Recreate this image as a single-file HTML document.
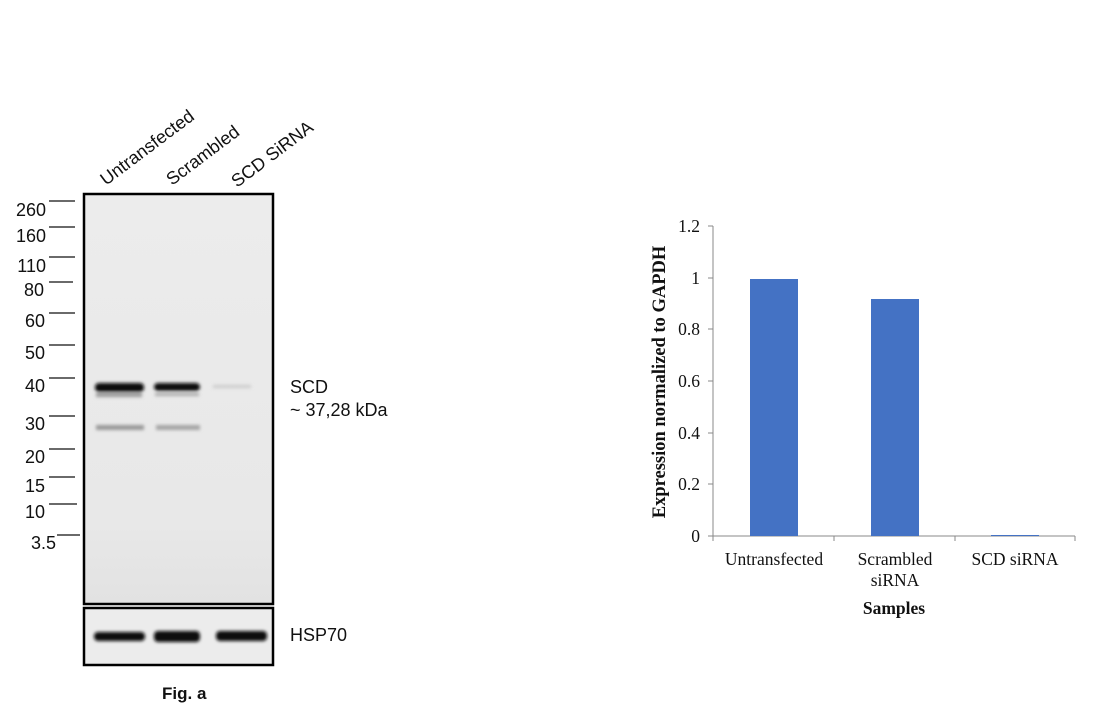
<!DOCTYPE html>
<html><head><style>body{margin:0;background:#fff}</style></head><body>
<svg width="1099" height="716" xmlns="http://www.w3.org/2000/svg">
<defs>
<filter id="bl" x="-20%" y="-200%" width="140%" height="500%"><feGaussianBlur stdDeviation="1.6"/></filter>
<linearGradient id="gel" x1="0" y1="0" x2="0" y2="1"><stop offset="0" stop-color="#ececec"/><stop offset="0.8" stop-color="#e8e8e8"/><stop offset="1" stop-color="#e2e2e2"/></linearGradient>
</defs>
<g font-family="Liberation Sans, Arial, sans-serif" font-size="18" fill="#111">
<g transform="translate(106,186) rotate(-37)"><text>Untransfected</text></g>
<g transform="translate(172,186) rotate(-37)"><text>Scrambled</text></g>
<g transform="translate(237,188) rotate(-37)"><text>SCD SiRNA</text></g>
</g>
<rect x="84" y="194" width="189" height="410" fill="url(#gel)" stroke="#000" stroke-width="2.5"/>
<rect x="84" y="608" width="189" height="57" fill="#ececec" stroke="#000" stroke-width="2.5"/>
<g filter="url(#bl)">
<rect x="95" y="383" width="49" height="9" rx="4" fill="#0a0a0a"/>
<rect x="154" y="383" width="46" height="8" rx="4" fill="#111"/>
<rect x="96" y="393" width="46" height="4" fill="#999"/>
<rect x="155" y="393" width="44" height="3" fill="#aaa"/>
<rect x="213" y="385" width="38" height="3" fill="#ccc"/>
<rect x="96" y="425" width="48" height="5" fill="#999"/>
<rect x="156" y="425" width="44" height="5" fill="#a5a5a5"/>
<rect x="94" y="632" width="51" height="9" rx="4" fill="#111"/>
<rect x="154" y="631" width="46" height="11" rx="4" fill="#0d0d0d"/>
<rect x="216" y="631" width="51" height="10" rx="4" fill="#111"/>
</g>
<g stroke="#111" stroke-width="1.3">
<line x1="49" y1="201" x2="75" y2="201"/><line x1="49" y1="227" x2="75" y2="227"/>
<line x1="49" y1="257" x2="75" y2="257"/><line x1="49" y1="282" x2="73" y2="282"/>
<line x1="49" y1="313" x2="75" y2="313"/><line x1="49" y1="345" x2="75" y2="345"/>
<line x1="49" y1="378" x2="75" y2="378"/><line x1="49" y1="416" x2="75" y2="416"/>
<line x1="49" y1="449" x2="75" y2="449"/><line x1="49" y1="477" x2="75" y2="477"/>
<line x1="49" y1="504" x2="77" y2="504"/><line x1="57" y1="535" x2="80" y2="535"/>
</g>
<g font-family="Liberation Sans, Arial, sans-serif" font-size="18" fill="#111" text-anchor="end">
<text x="46" y="216">260</text><text x="46" y="242">160</text><text x="46" y="272">110</text>
<text x="44" y="296">80</text><text x="45" y="327">60</text><text x="45" y="359">50</text>
<text x="45" y="392">40</text><text x="45" y="430">30</text><text x="45" y="463">20</text>
<text x="45" y="492">15</text><text x="45" y="518">10</text><text x="56" y="549">3.5</text>
</g>
<g font-family="Liberation Sans, Arial, sans-serif" font-size="18" fill="#111">
<text x="290" y="393">SCD</text><text x="290" y="416">~ 37,28 kDa</text>
<text x="290" y="641">HSP70</text>
<text x="162" y="699" font-weight="bold" font-size="17">Fig. a</text>
</g>
<g stroke="#888" stroke-width="1">
<line x1="713" y1="226" x2="713" y2="536"/>
<line x1="713" y1="536" x2="1075" y2="536"/>
<line x1="708" y1="226" x2="713" y2="226"/><line x1="708" y1="278" x2="713" y2="278"/>
<line x1="708" y1="329" x2="713" y2="329"/><line x1="708" y1="381" x2="713" y2="381"/>
<line x1="708" y1="433" x2="713" y2="433"/><line x1="708" y1="484" x2="713" y2="484"/>
<line x1="708" y1="536" x2="713" y2="536"/>
<line x1="713" y1="536" x2="713" y2="541"/><line x1="834" y1="536" x2="834" y2="541"/>
<line x1="955" y1="536" x2="955" y2="541"/><line x1="1075" y1="536" x2="1075" y2="541"/>
</g>
<rect x="750" y="279" width="48" height="257" fill="#4472c4"/>
<rect x="871" y="299" width="48" height="237" fill="#4472c4"/>
<rect x="991" y="535" width="48" height="1" fill="#4472c4"/>
<g font-family="Liberation Serif, 'Times New Roman', serif" font-size="17.5" fill="#111">
<g text-anchor="end">
<text x="700" y="232">1.2</text><text x="700" y="284">1</text><text x="700" y="335">0.8</text>
<text x="700" y="387">0.6</text><text x="700" y="439">0.4</text><text x="700" y="490">0.2</text><text x="700" y="542">0</text>
</g>
<g text-anchor="middle">
<text x="774" y="565">Untransfected</text>
<text x="895" y="565">Scrambled</text><text x="895" y="586">siRNA</text>
<text x="1015" y="565">SCD siRNA</text>
<text x="894" y="614" font-weight="bold">Samples</text>
</g>
<text transform="translate(665,382) rotate(-90)" text-anchor="middle" font-weight="bold" font-size="18.5">Expression normalized to GAPDH</text>
</g>
</svg>
</body></html>
